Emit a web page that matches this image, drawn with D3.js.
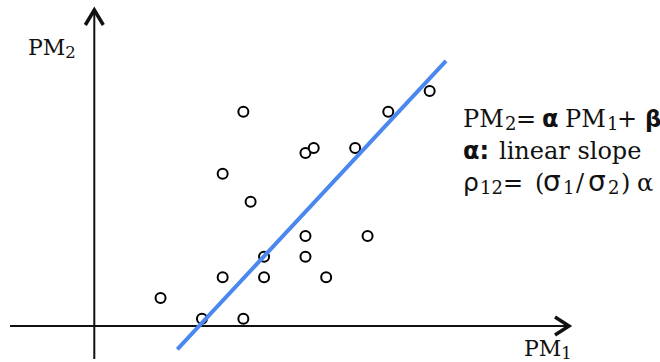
<!DOCTYPE html>
<html>
<head>
<meta charset="utf-8">
<script src="https://cdn.jsdelivr.net/npm/d3@7"></script>
<style>
  html, body { margin: 0; padding: 0; background: #fff; }
  svg { display: block; }
</style>
</head>
<body>
<svg id="chart" width="660" height="362"></svg>
<script>
// Observations: PM1 (horizontal) against PM2 (vertical)
const pm1 = [3.2, 5.2, 7.2, 6.2, 8.2, 8.2, 10.2, 10.2, 11.2, 13.2, 7.55, 6.2, 10.2, 10.6, 12.6, 14.2, 16.2, 7.2];
const pm2 = [1.35, 0.35, 0.35, 2.35, 2.35, 3.35, 3.35, 4.35, 2.35, 4.35, 6.0, 7.35, 8.35, 8.6, 8.6, 10.35, 11.35, 10.35];

// Fitted line PM2 = alpha * PM1 + beta, drawn over this PM1 span
const alpha = 1.073;
const beta = -5.43;
const fitSpan = [4.01, 16.99];

// Axis extents in data units
const xExtent = [-4.07, 22.93];
const yExtent = [-1.59, 15.31];

const svg = d3.select("#chart");

const x = d3.scaleLinear().domain([0, 22.93]).range([94.3, 569]);
const y = d3.scaleLinear().domain([0, 15.31]).range([326, 9]);

const serif = "'DejaVu Serif', 'Liberation Serif', serif";
const sans = "'DejaVu Sans', 'Noto Sans', sans-serif";

// Axes with open chevron arrowheads
const axisG = svg.append("g").attr("stroke", "#111").attr("fill", "none");
axisG.append("line")
  .attr("x1", x(xExtent[0])).attr("x2", x(xExtent[1]))
  .attr("y1", y(0)).attr("y2", y(0))
  .attr("stroke-width", 2);
axisG.append("line")
  .attr("x1", x(0)).attr("x2", x(0))
  .attr("y1", y(yExtent[0])).attr("y2", y(yExtent[1]))
  .attr("stroke-width", 2);

const ax = x(xExtent[1]), ay = y(0);
axisG.append("path")
  .attr("d", `M${ax - 14},${ay - 9} L${ax},${ay} L${ax - 14},${ay + 9}`)
  .attr("stroke-width", 3.5).attr("stroke-linejoin", "miter").attr("stroke-linecap", "butt");
const bx = x(0), by = y(yExtent[1]);
axisG.append("path")
  .attr("d", `M${bx - 9},${by + 16} L${bx},${by + 1} L${bx + 9},${by + 16}`)
  .attr("stroke-width", 3.5).attr("stroke-linejoin", "miter").attr("stroke-linecap", "butt");

// Points
svg.append("g")
  .selectAll("circle")
  .data(pm1.map((v, i) => [v, pm2[i]]))
  .join("circle")
  .attr("cx", d => x(d[0]))
  .attr("cy", d => y(d[1]))
  .attr("r", 5)
  .attr("fill", "#fff")
  .attr("stroke", "#000")
  .attr("stroke-width", 2);

// Regression line
svg.append("line")
  .attr("x1", x(fitSpan[0])).attr("y1", y(alpha * fitSpan[0] + beta))
  .attr("x2", x(fitSpan[1])).attr("y2", y(alpha * fitSpan[1] + beta))
  .attr("stroke", "#4a87ee")
  .attr("stroke-width", 4);

// Helper: write a run of styled pieces on one baseline.
// A piece may carry `at`, its offset from the start of the run,
// and `size`, a font size of its own.
function richText(g, px, py, parts, size) {
  const t = g.append("text").attr("x", px).attr("y", py)
    .attr("font-family", serif).attr("font-size", size).attr("fill", "#111");
  let shift = 0;
  parts.forEach(p => {
    const s = t.append("tspan").text(p.t);
    if (p.at !== undefined) s.attr("x", px + p.at);
    const want = p.sub ? 2.5 : 0;
    if (want !== shift) { s.attr("dy", want - shift); shift = want; }
    s.attr("font-size", p.size || (p.sub ? size * 0.75 : size));
    if (p.greek) s.attr("font-family", sans);
    if (p.bold) s.attr("font-weight", "bold");
  });
  return t;
}

const labels = svg.append("g");
richText(labels, 28, 55, [{t: "PM"}, {t: "2", sub: true}], 22);
richText(labels, 524, 356, [{t: "PM"}, {t: "1", sub: true}], 22);

const fs = 24;
richText(labels, 463, 127, [
  {t: "PM", at: 0}, {t: "2", sub: true, at: 42}, {t: "=", at: 53},
  {t: "α", greek: true, bold: true, at: 79},
  {t: "PM", at: 102}, {t: "1", sub: true, at: 144}, {t: "+", at: 154},
  {t: "β", greek: true, bold: true, at: 182, size: 23}
], fs);
richText(labels, 463, 159, [
  {t: "α:", greek: true, bold: true, at: 0}, {t: "linear slope", at: 36}
], fs);
richText(labels, 463, 191, [
  {t: "ρ", greek: true, at: 0, size: 25}, {t: "12", sub: true, at: 17}, {t: "=", at: 40},
  {t: "(", at: 72}, {t: "σ", greek: true, at: 80, size: 28}, {t: "1", sub: true, at: 100},
  {t: "/", at: 113}, {t: "σ", greek: true, at: 125, size: 28}, {t: "2", sub: true, at: 145},
  {t: ")", at: 158}, {t: "α", at: 174}
], fs);
</script>
</body>
</html>
